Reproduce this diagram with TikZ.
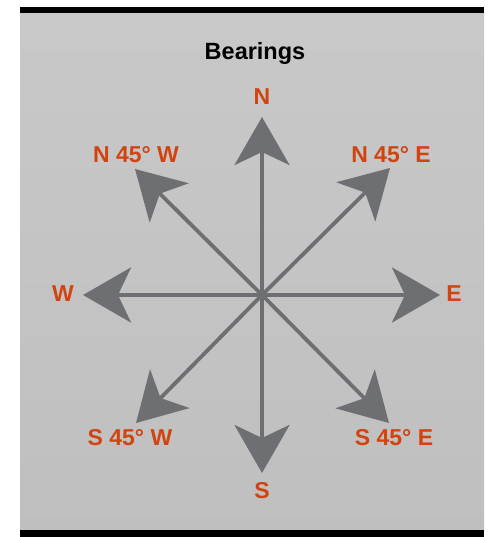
\documentclass[tikz,border=0pt]{standalone}
\usepackage{fontspec}
\setmainfont{Liberation Sans}
\usetikzlibrary{arrows.meta}

\definecolor{labelred}{HTML}{D2440F}
\definecolor{arrowgray}{HTML}{6E6F72}

\begin{document}
\begin{tikzpicture}[x=1pt,y=-1pt,>={Stealth[length=48pt,width=55pt,inset=13pt]},
                    dir/.style={draw=arrowgray,line width=3.8pt,->},
                    dir label/.style={text=labelred,font=\fontsize{23}{23}\selectfont\bfseries,inner sep=0pt}]

  % frame
  \fill[white] (0,0) rectangle (489,537);
  \shade[top color=gray!43,bottom color=gray!50] (20,13) rectangle (484,530);
  \fill[black] (20,7) rectangle (484,13);
  \fill[black] (20,530) rectangle (484,537);

  \node[font=\fontsize{23.5}{23.5}\selectfont\bfseries] (title) at (255,53) {Bearings};

  \coordinate (o) at (262,295);
  \coordinate (tN) at (262,117);
  \coordinate (tS) at (262,473);
  \coordinate (tW) at (83,295);
  \coordinate (tE) at (440,295);
  \coordinate (tNE) at (390,168);
  \coordinate (tNW) at (135,169);
  \coordinate (tSE) at (389,423);
  \coordinate (tSW) at (136,423);

  \node[dir label] (n) at (262,97) {N};
  \node[dir label] (s) at (262,491) {S};
  \node[dir label] (w) at (63,294) {W};
  \node[dir label] (e) at (454,294) {E};
  \node[dir label] (ne) at (391,155) {N 45° E};
  \node[dir label] (nw) at (136,155) {N 45° W};
  \node[dir label] (se) at (394,438) {S 45° E};
  \node[dir label] (sw) at (130,438) {S 45° W};

  \foreach \t in {tN,tS,tW,tE,tNE,tNW,tSE,tSW}
    \draw[dir] (o) -- (\t);
\end{tikzpicture}
\end{document}
